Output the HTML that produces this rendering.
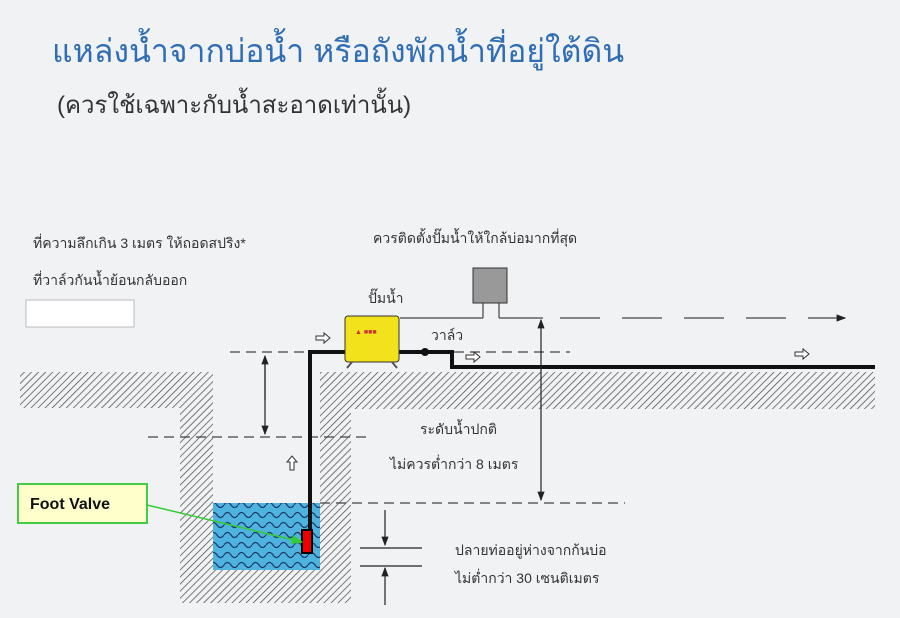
<!DOCTYPE html>
<html><head><meta charset="utf-8"><style>
body{margin:0;background:#f1f2f4;}
svg{display:block}
text{font-family:"Liberation Sans","DejaVu Sans",sans-serif;fill:#333}
</style></head><body>
<svg width="900" height="618" viewBox="0 0 900 618" xmlns="http://www.w3.org/2000/svg">
<defs>
<pattern id="h" width="5" height="5" patternUnits="userSpaceOnUse" patternTransform="rotate(45)">
<rect width="5" height="5" fill="#f1f2f4"/><line x1="0" y1="0" x2="0" y2="5" stroke="#444" stroke-width="1.4"/>
</pattern>
<pattern id="w" width="14" height="10" patternUnits="userSpaceOnUse">
<rect width="14" height="10" fill="#4fb3e0"/>
<path d="M0 5 Q3.5 0 7 5 T14 5" fill="none" stroke="#1a3a6a" stroke-width="1.2"/>
</pattern>
<marker id="a" markerWidth="8" markerHeight="8" refX="7" refY="4" orient="auto"><path d="M0,1 L8,4 L0,7z" fill="#222"/></marker>
<marker id="g" markerWidth="8" markerHeight="8" refX="7" refY="4" orient="auto"><path d="M0,1 L8,4 L0,7z" fill="#3c3"/></marker>
</defs>
<rect width="900" height="618" fill="#f1f2f4"/>
<text x="52" y="62" font-size="32" style="fill:#2f6db5">แหล่งน้ำจากบ่อน้ำ หรือถังพักน้ำที่อยู่ใต้ดิน</text>
<text x="57" y="113" font-size="24">(ควรใช้เฉพาะกับน้ำสะอาดเท่านั้น)</text>
<text x="33" y="248" font-size="14">ที่ความลึกเกิน 3 เมตร ให้ถอดสปริง*</text>
<text x="33" y="285" font-size="14">ที่วาล์วกันน้ำย้อนกลับออก</text>
<text x="373" y="243" font-size="14">ควรติดตั้งปั๊มน้ำให้ใกล้บ่อมากที่สุด</text>
<rect x="26" y="300" width="108" height="27" fill="#fff" stroke="#bbb"/>
<rect x="20" y="372" width="193" height="36" fill="url(#h)"/>
<rect x="180" y="372" width="33" height="231" fill="url(#h)"/>
<rect x="320" y="372" width="555" height="37" fill="url(#h)"/>
<rect x="320" y="372" width="31" height="231" fill="url(#h)"/>
<rect x="180" y="570" width="171" height="33" fill="url(#h)"/>
<rect x="213" y="503" width="107" height="67" fill="url(#w)"/>
<g stroke="#444" stroke-width="1.2" stroke-dasharray="10,6" fill="none">
<line x1="230" y1="352" x2="570" y2="352"/>
<line x1="148" y1="437" x2="372" y2="437"/>
<line x1="320" y1="503" x2="625" y2="503"/>
</g>
<g stroke="#444" stroke-width="1.2" fill="none">
<line x1="400" y1="318" x2="483" y2="318"/><line x1="483" y1="318" x2="483" y2="303"/>
<line x1="499" y1="303" x2="499" y2="318"/><line x1="499" y1="318" x2="543" y2="318"/>
<line x1="560" y1="318" x2="845" y2="318" stroke-dasharray="40,22" marker-end="url(#a)"/>
</g>
<rect x="473" y="268" width="34" height="35" fill="#999" stroke="#333"/>
<path d="M310 540 V352 H452 V367 H875" fill="none" stroke="#111" stroke-width="4"/>
<circle cx="425" cy="352" r="4" fill="#111"/>
<rect x="345" y="316" width="54" height="46" rx="3" fill="#f2e21c" stroke="#333"/>
<text x="355" y="334" font-size="7" style="fill:#c33">▲ ■■■</text>
<path d="M352 362 l-5 6 M392 362 l5 6" stroke="#555" stroke-width="2"/>
<rect x="302" y="530" width="10" height="23" fill="#e00" stroke="#000" stroke-width="2"/>
<text x="368" y="303" font-size="14">ปั๊มน้ำ</text>
<text x="431" y="340" font-size="14">วาล์ว</text>
<g fill="#fff" stroke="#333">
<path d="M316 336 h8 v-3 l6 5 l-6 5 v-3 h-8z"/>
<path d="M466 355 h8 v-3 l6 5 l-6 5 v-3 h-8z"/>
<path d="M795 352 h8 v-3 l6 5 l-6 5 v-3 h-8z"/>
<path d="M290 470 v-8 h-3 l5 -6 l5 6 h-3 v8z"/>
</g>
<g stroke="#222" stroke-width="1.2">
<line x1="265" y1="358" x2="265" y2="434" marker-end="url(#a)"/>
<line x1="265" y1="400" x2="265" y2="356" marker-end="url(#a)"/>
<line x1="541" y1="410" x2="541" y2="320" marker-end="url(#a)"/>
<line x1="541" y1="410" x2="541" y2="500" marker-end="url(#a)"/>
<line x1="385" y1="510" x2="385" y2="545" marker-end="url(#a)"/>
<line x1="385" y1="605" x2="385" y2="568" marker-end="url(#a)"/>
<line x1="360" y1="548" x2="422" y2="548"/>
<line x1="360" y1="566" x2="422" y2="566"/>
</g>
<text x="420" y="434" font-size="14">ระดับน้ำปกติ</text>
<text x="390" y="469" font-size="14">ไม่ควรต่ำกว่า 8 เมตร</text>
<text x="455" y="555" font-size="14">ปลายท่ออยู่ห่างจากก้นบ่อ</text>
<text x="455" y="583" font-size="14">ไม่ต่ำกว่า 30 เซนติเมตร</text>
<rect x="18" y="484" width="129" height="39" fill="#ffffcc" stroke="#4c4" stroke-width="2"/>
<text x="30" y="509" font-size="16" font-weight="bold" style="fill:#111">Foot Valve</text>
<line x1="147" y1="505" x2="302" y2="542" stroke="#3c3" stroke-width="1.5" marker-end="url(#g)"/>
</svg>
</body></html>
